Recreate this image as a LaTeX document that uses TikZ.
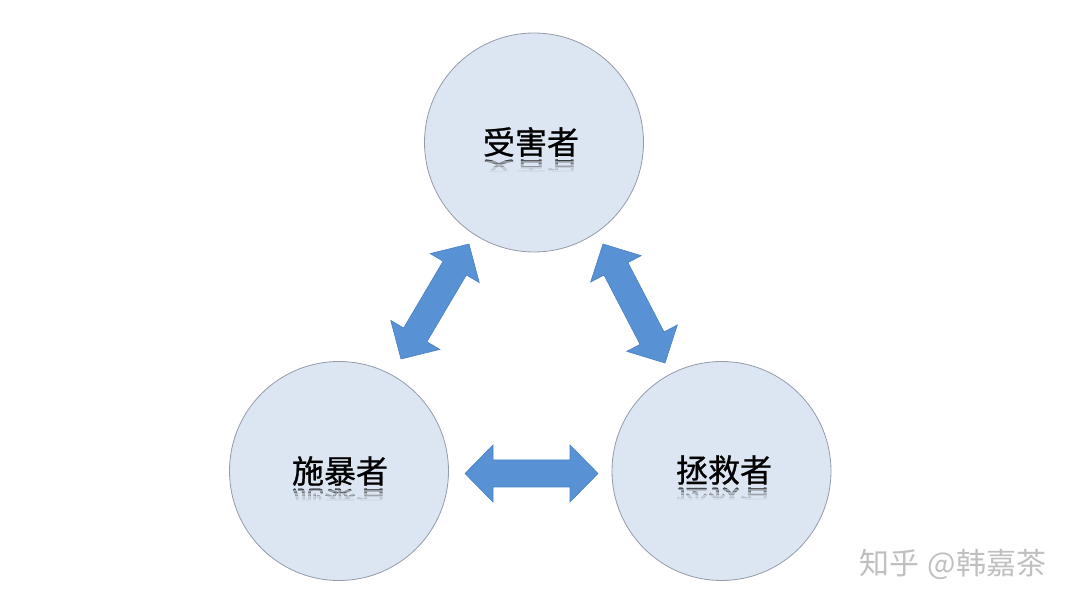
\documentclass[tikz,border=0pt]{standalone}
\usepackage{fontspec}
\newfontfamily\cjk[FakeBold=0.8]{Noto Sans CJK SC}
\newfontfamily\cjkwm{Noto Sans CJK SC}
\usetikzlibrary{calc}
\definecolor{circfill}{RGB}{220,230,242}
\definecolor{circline}{RGB}{148,156,170}
\definecolor{arrfill}{RGB}{88,146,212}
\definecolor{arrline}{RGB}{72,128,196}
\definecolor{wmark}{RGB}{192,192,192}
\tikzset{
  role/.style={circle, draw=circline, fill=circfill, line width=0.8pt, minimum size=219pt, inner sep=0pt},
  rolelabel/.style={font=\cjk\fontsize{32}{32}\selectfont, text=black, inner sep=0pt},
  blockarrow/.style={fill=arrfill, draw=arrline, line width=0.6pt, line join=miter},
  watermark/.style={font=\cjkwm\fontsize{30}{30}\selectfont, text=wmark, inner sep=0pt},
}
% #1 name, #2 x, #3 Y of label centre, #4 Y of mirror line, #5 text
\newcommand\reflab[5]{%
  \node[rolelabel] (#1) at (#2,#3) {#5};
  \foreach \a/\b/\o in {0/3/0.45,3/6/0.32,6/9/0.2,9/12/0.1,12/14/0.04}{%
    \begin{scope}
      \clip (#2-60,#4-\a) rectangle (#2+60,#4-\b);
      \begin{scope}[shift={(#2,#4)}, yscale=-1]
        \node[rolelabel, transform shape, opacity=\o, text opacity=\o] (#1-r\a) at (0,#3-#4) {#5};
      \end{scope}
    \end{scope}}%
}
% block double arrow between two named coordinates
\newcommand\blockarrowbetween[2]{%
  \path let \p1=(#1), \p2=(#2) in \pgfextra{%
    \pgfmathsetmacro\arang{atan2(\y2-\y1,\x2-\x1)}%
    \pgfmathsetmacro\arlen{veclen(\x2-\x1,\y2-\y1)}%
    \global\let\arang\arang \global\let\arlen\arlen};
  \begin{scope}[shift={(#1)}, rotate=\arang]
    \filldraw[blockarrow] (0pt,0pt) -- (28pt,28.5pt) -- (28pt,13.5pt)
      -- (\arlen pt-28pt,13.5pt) -- (\arlen pt-28pt,28.5pt) -- (\arlen pt,0pt)
      -- (\arlen pt-28pt,-28.5pt) -- (\arlen pt-28pt,-13.5pt) -- (28pt,-13.5pt)
      -- (28pt,-28.5pt) -- cycle;
  \end{scope}
}
\begin{document}
\begin{tikzpicture}[x=1pt,y=1pt]
  \useasboundingbox[fill=white] (0,0) rectangle (1080,608);
  % circles
  \node[role] (victim) at (534,465.5) {};
  \node[role] (persecutor) at (339,137) {};
  \node[role] (rescuer) at (721.5,137) {};
  % labels with reflection
  \reflab{victimlabel}{531}{466}{450}{受害者}
  \reflab{persecutorlabel}{340}{137}{121}{施暴者}
  \reflab{rescuerlabel}{724}{138}{122}{拯救者}
  % arrow end points
  \coordinate (l1) at (401,249);
  \coordinate (l2) at (469,364);
  \coordinate (r1) at (603,364);
  \coordinate (r2) at (665,245);
  \coordinate (h1) at (465,134.5);
  \coordinate (h2) at (598,134.5);
  \blockarrowbetween{l1}{l2}
  \blockarrowbetween{r1}{r2}
  \blockarrowbetween{h1}{h2}
  % watermark
  \node[watermark] (wm) at (953,43.5) {知乎\hspace{8pt}@韩嘉茶};
\end{tikzpicture}
\end{document}
